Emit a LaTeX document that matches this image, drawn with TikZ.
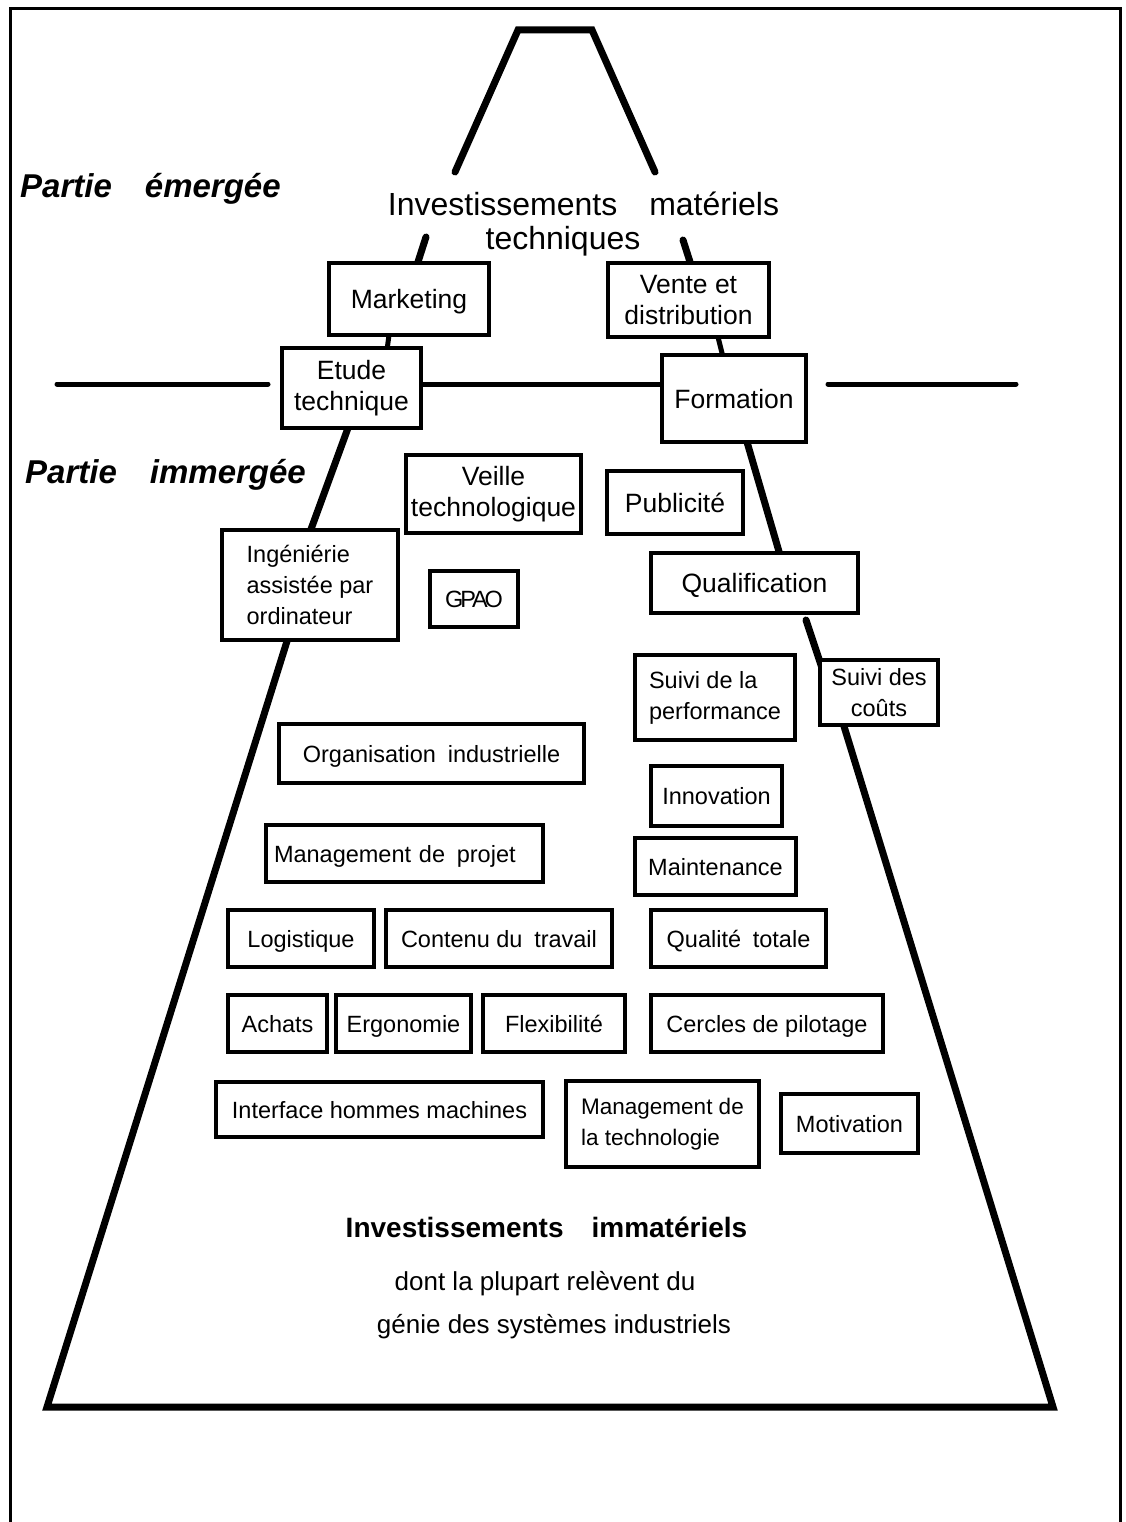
\documentclass[tikz,border=0pt]{standalone}
\usepackage{fontspec}
\setmainfont{Liberation Sans}
\begin{document}
\begin{tikzpicture}[x=1pt,y=-1pt,
  box/.style={draw, line width=3.5pt, fill=white, inner sep=0pt, align=center, font=\fontsize{23.5}{31}\selectfont},
  bigtxt/.style={font=\fontsize{26.5}{31}\selectfont},
  one/.style={text height=20.5pt, text depth=3pt},
  bigone/.style={text height=22pt, text depth=3pt},
  ice/.style={line width=7pt, line cap=round, line join=miter},
  link/.style={line width=5pt},
  water/.style={line width=5pt, line cap=round},
  frame/.style={line width=3pt}]
\useasboundingbox (0,0) rectangle (1126,1522);

% outer frame
\draw[frame] (10,1522) -- (10,9) -- (1120,9) -- (1120,1522);

% named points of the iceberg outline
\coordinate (tipL) at (455,172);
\coordinate (topL) at (518,30);
\coordinate (topR) at (592,30);
\coordinate (tipR) at (655,172);
\coordinate (a1) at (426,237);  \coordinate (a2) at (417,265);
\coordinate (b1) at (683,240);  \coordinate (b2) at (691,265);
\coordinate (c1) at (389,335);  \coordinate (c2) at (387,350);
\coordinate (d1) at (718,337);  \coordinate (d2) at (723,357);
\coordinate (e1) at (348,428);  \coordinate (e2) at (310,532);
\coordinate (f1) at (747,442);  \coordinate (f2) at (780,555);
\coordinate (g1) at (806,620);  \coordinate (g2) at (822,668);
\coordinate (h1) at (288,638);  \coordinate (botL) at (47,1407);
\coordinate (botR) at (1053,1407); \coordinate (h2) at (843,723);
\coordinate (w1) at (57,384);   \coordinate (w2) at (268,384);
\coordinate (w3) at (421,384);  \coordinate (w4) at (662,384);
\coordinate (w5) at (828,384);  \coordinate (w6) at (1016,384);

% iceberg outline
\draw[ice] (tipL) -- (topL) -- (topR) -- (tipR);
\draw[ice] (a1) -- (a2);
\draw[ice] (b1) -- (b2);
\draw[link] (c1) -- (c2);
\draw[link] (d1) -- (d2);
\draw[ice] (e1) -- (e2);
\draw[ice] (f1) -- (f2);
\draw[ice] (g1) -- (g2);
\draw[ice] (h1) -- (botL) -- (botR) -- (h2);

% waterline
\draw[water] (w1) -- (w2);
\draw[water] (w3) -- (w4);
\draw[water] (w5) -- (w6);

% titles
\node[anchor=base west, inner sep=0pt, font=\fontsize{33}{38}\selectfont\bfseries\itshape] (pe) at (20,198) {Partie\quad émergée};
\node[anchor=base west, inner sep=0pt, font=\fontsize{33}{38}\selectfont\bfseries\itshape] (pi) at (25,483) {Partie\quad immergée};
\node[anchor=base, inner sep=0pt, font=\fontsize{32}{38}\selectfont] (im1) at (583.5,216) {Investissements\quad matériels};
\node[anchor=base, inner sep=0pt, font=\fontsize{32}{38}\selectfont] (im2) at (563,250) {techniques};
\node[anchor=base, inner sep=0pt, font=\fontsize{28}{34}\selectfont\bfseries] (ii1) at (546.5,1237) {Investissements\quad immatériels};
\node[anchor=base, inner sep=0pt, font=\fontsize{26}{32}\selectfont] (ii2) at (545,1290) {dont la plupart relèvent du};
\node[anchor=base, inner sep=0pt, font=\fontsize{26}{32}\selectfont] (ii3) at (554,1333) {génie des systèmes industriels};

% boxes above / on the waterline
\node[box, bigtxt, bigone, minimum width=160pt, minimum height=72pt] (mkt) at (409,299) {Marketing};
\node[box, bigtxt, minimum width=161pt, minimum height=74pt] (vente) at (688.5,300) {Vente et\\distribution};
\node[box, bigtxt, minimum width=139pt, minimum height=80pt] (etude) at (351.5,388) {Etude\\technique};
\node[box, bigtxt, bigone, minimum width=144pt, minimum height=87pt] (form) at (734,398.5) {Formation};

% boxes below
\node[box, bigtxt, minimum width=175pt, minimum height=78pt] (veille) at (493.5,494) {Veille\\technologique};
\node[box, bigtxt, bigone, minimum width=136pt, minimum height=63pt] (pub) at (675,502.5) {Publicité};
\node[box, align=left, minimum width=176pt, minimum height=110pt] (ing) at (310,585) {Ingéniérie\\assistée par\\ordinateur};
\node[box, one, minimum width=88pt, minimum height=56pt] (gpao) at (474,599) {G\kern-3pt P\kern-4pt A\kern-3pt O};
\node[box, bigtxt, bigone, minimum width=207pt, minimum height=60pt] (qual) at (754.5,583) {Qualification};
\node[box, align=left, minimum width=160pt, minimum height=85pt] (perf) at (715,697.5) {Suivi de la\\performance};
\node[box, minimum width=118pt, minimum height=65pt] (couts) at (879,692.5) {Suivi des\\coûts};
\node[box, one, minimum width=305pt, minimum height=59pt] (orga) at (431.5,753.5) {Organisation\enspace industrielle};
\node[box, one, minimum width=131pt, minimum height=60pt] (innov) at (716.5,796) {Innovation};
\node[box, one, align=left, text width=261pt, inner xsep=8pt, minimum height=57pt] (mproj) at (404.5,853.5) {Management de\enspace projet};
\node[box, one, minimum width=161pt, minimum height=57pt] (maint) at (715.5,866.5) {Maintenance};
\node[box, one, minimum width=146pt, minimum height=57pt] (logi) at (301,938.5) {Logistique};
\node[box, one, minimum width=226pt, minimum height=57pt] (cont) at (499,938.5) {Contenu du\enspace travail};
\node[box, one, minimum width=175pt, minimum height=57pt] (qtot) at (738.5,938.5) {Qualité\enspace totale};
\node[box, one, minimum width=99pt, minimum height=57pt] (ach) at (277.5,1023.5) {Achats};
\node[box, one, minimum width=135pt, minimum height=57pt] (ergo) at (403.5,1023.5) {Ergonomie};
\node[box, one, minimum width=142pt, minimum height=57pt] (flex) at (554,1023.5) {Flexibilité};
\node[box, one, minimum width=232pt, minimum height=57pt] (cerc) at (767,1023.5) {Cercles de pilotage};
\node[box, one, minimum width=327pt, minimum height=55pt] (ihm) at (379.5,1109.5) {Interface hommes machines};
\node[box, align=left, font=\fontsize{22.5}{31}\selectfont, minimum width=193pt, minimum height=86pt] (mtech) at (662.5,1124) {Management de\\la technologie};
\node[box, one, minimum width=137pt, minimum height=59pt] (motiv) at (849.5,1123.5) {Motivation};
\end{tikzpicture}
\end{document}
